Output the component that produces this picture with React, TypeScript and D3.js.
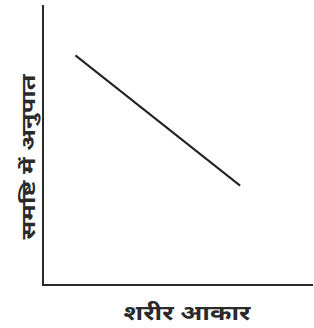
import { useRef, useEffect } from "react";
import * as d3 from "d3";

// body size (x) vs proportion in population (y), arbitrary units
const bodySize = [1.2, 7.3];
const proportion = [8.2, 3.55];
const xLabel = "शरीर आकार";
const yLabel = "समष्टि में अनुपात";

export default function App() {
  const svgRef = useRef<SVGSVGElement>(null);

  useEffect(() => {
    drawChart();
  }, []);

  function drawChart() {
    if (!svgRef.current) return;
    const svg = d3.select(svgRef.current);
    svg.selectAll("*").remove();

    const width = 314;
    const height = 328;
    const margin = { top: 5, right: 1, bottom: 43, left: 43 };

    const x = d3.scaleLinear().domain([0, 10]).range([margin.left, width - margin.right]);
    const y = d3.scaleLinear().domain([0, 10]).range([height - margin.bottom, margin.top]);

    const fontFamily = "'Noto Sans Devanagari', 'Lohit Devanagari', 'Noto Sans', sans-serif";

    // axes: plain lines with no ticks
    const axisPath = d3.line<[number, number]>()([
      [x(0), y(10)],
      [x(0), y(0)],
      [x(10), y(0)],
    ]);
    svg
      .append("path")
      .attr("d", axisPath)
      .attr("fill", "none")
      .attr("stroke", "#2a2a2a")
      .attr("stroke-width", 2);

    const pts = bodySize.map((v, i) => [v, proportion[i]] as [number, number]);
    const line = d3
      .line<[number, number]>()
      .x((d) => x(d[0]))
      .y((d) => y(d[1]));

    svg
      .append("path")
      .datum(pts)
      .attr("d", line)
      .attr("fill", "none")
      .attr("stroke", "#222")
      .attr("stroke-width", 2);

    svg
      .append("text")
      .attr("x", 187)
      .attr("y", 320)
      .attr("text-anchor", "middle")
      .attr("font-family", fontFamily)
      .attr("font-size", 20)
      .attr("font-weight", "bold")
      .attr("textLength", 127)
      .attr("lengthAdjust", "spacingAndGlyphs")
      .attr("fill", "#2a2a2a")
      .text(xLabel);

    svg
      .append("text")
      .attr("transform", `translate(35, 157) rotate(-90)`)
      .attr("text-anchor", "middle")
      .attr("font-family", fontFamily)
      .attr("font-size", 19)
      .attr("font-weight", "bold")
      .attr("textLength", 165)
      .attr("lengthAdjust", "spacingAndGlyphs")
      .attr("fill", "#2a2a2a")
      .text(yLabel);
  }

  return (
    <svg
      ref={svgRef}
      width={314}
      height={328}
      style={{ position: "absolute", left: 0, top: 0, background: "#fff" }}
    />
  );
}
